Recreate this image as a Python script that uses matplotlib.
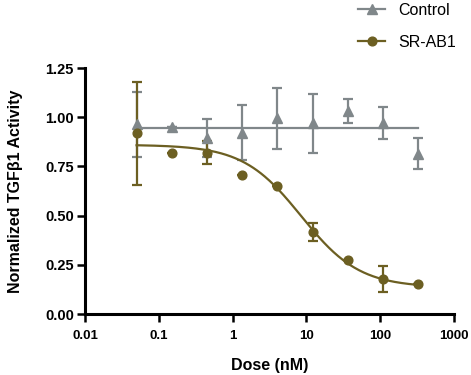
import numpy as np
import matplotlib
matplotlib.use("Agg")
import matplotlib.pyplot as plt
from matplotlib.lines import Line2D

# ---- data ----
dose = [0.05, 0.15, 0.45, 1.35, 4.05, 12.15, 36.45, 109.35, 328.05]
control_mean = [0.965, 0.95, 0.895, 0.92, 0.995, 0.97, 1.03, 0.97, 0.815]
control_sem = [0.165, 0.0, 0.095, 0.14, 0.155, 0.15, 0.06, 0.08, 0.08]
srab1_mean = [0.918, 0.82, 0.82, 0.705, 0.65, 0.415, 0.275, 0.178, 0.15]
srab1_sem = [0.262, 0.0, 0.06, 0.0, 0.0, 0.045, 0.0, 0.067, 0.0]

control_fit_level = 0.945
# 4-parameter logistic fit for SR-AB1
fit_top = 0.86
fit_bottom = 0.135
fit_ic50 = 8.5
fit_hill = 1.1

xticks = [0.01, 0.1, 1, 10, 100, 1000]
xticklabels = ["0.01", "0.1", "1", "10", "100", "1000"]
yticks = [0.0, 0.25, 0.5, 0.75, 1.0, 1.25]
yticklabels = ["0.00", "0.25", "0.50", "0.75", "1.00", "1.25"]

gray = "#80878a"
olive = "#6c5f22"

plt.rcParams["font.family"] = ["Liberation Sans", "DejaVu Sans"]

fig = plt.figure(figsize=(4.71, 3.75), dpi=100)
ax = fig.add_axes([85 / 471, 61 / 375, 369 / 471, 246 / 375])

# control
ax.errorbar(dose, control_mean, yerr=control_sem, fmt="none", ecolor=gray,
            elinewidth=1.6, capsize=3.8, capthick=1.6, zorder=2)
ax.plot([dose[0], dose[-1]], [control_fit_level, control_fit_level],
        color=gray, lw=1.6, zorder=2)
ax.plot(dose, control_mean, ls="none", marker="^", ms=6.5, color=gray,
        zorder=3)

# SR-AB1
ax.errorbar(dose, srab1_mean, yerr=srab1_sem, fmt="none", ecolor=olive,
            elinewidth=1.6, capsize=3.8, capthick=1.6, zorder=2.5)
xs = np.logspace(np.log10(dose[0]), np.log10(dose[-1]), 300)
ys = fit_bottom + (fit_top - fit_bottom) / (1 + (xs / fit_ic50) ** fit_hill)
ax.plot(xs, ys, color=olive, lw=1.6, zorder=2.5)
ax.plot(dose, srab1_mean, ls="none", marker="o", ms=6.3, color=olive,
        zorder=3.5)

ax.set_xscale("log")
ax.set_xlim(0.01, 1000)
ax.set_ylim(0, 1.25)
ax.set_xticks(xticks)
ax.set_xticklabels(xticklabels)
ax.xaxis.set_minor_locator(matplotlib.ticker.NullLocator())
ax.set_yticks(yticks)
ax.set_yticklabels(yticklabels)

for s in ["top", "right"]:
    ax.spines[s].set_visible(False)
for s in ["left", "bottom"]:
    ax.spines[s].set_linewidth(2.2)
    ax.spines[s].set_capstyle("projecting")
ax.tick_params(axis="both", length=5.5, width=1.8, direction="out")
ax.tick_params(axis="x", labelsize=9.5, pad=6)
ax.tick_params(axis="y", labelsize=10.5, pad=2.5)
for lab in ax.get_xticklabels() + ax.get_yticklabels():
    lab.set_fontweight("bold")

ax.set_xlabel("Dose (nM)", fontsize=11.5, fontweight="bold", labelpad=11.5)
ax.set_ylabel("Normalized TGF\u03b21 Activity", fontsize=11.5,
              fontweight="bold", labelpad=16)

handles = [
    Line2D([], [], color=gray, marker="^", ms=6.5, lw=1.6),
    Line2D([], [], color=olive, marker="o", ms=6.3, lw=1.6),
]
fig.legend(handles, ["Control", "SR-AB1"], loc="upper left",
           bbox_to_anchor=(358 / 471, 372 / 375), frameon=False,
           fontsize=11.5, handlelength=1.7, handletextpad=0.85,
           labelspacing=1.05, borderaxespad=0.0, borderpad=0.0)

fig.savefig("out.png", dpi=100)
